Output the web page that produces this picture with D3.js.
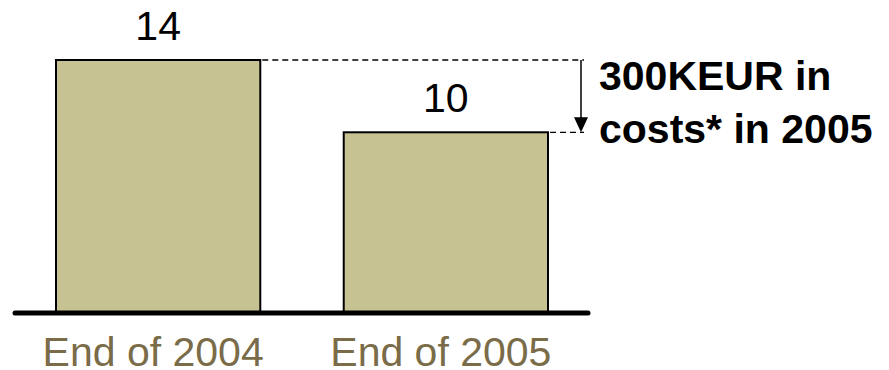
<!DOCTYPE html>
<html>
<head>
<meta charset="utf-8">
<script src="https://cdn.jsdelivr.net/npm/d3@7"></script>
<style>
  html, body { margin: 0; padding: 0; background: #fff; }
  svg { display: block; }
</style>
</head>
<body>
<svg id="chart" width="889" height="370"></svg>
<script>
// Headcount at year end
const categories = ["End of 2004", "End of 2005"];
const values = [14, 10];
const noteLines = ["300KEUR in", "costs* in 2005"];

const svg = d3.select("#chart");
const font = "'Liberation Sans', Arial, Helvetica, sans-serif";

const x = d3.scaleBand()
  .domain(categories)
  .range([56, 548])
  .paddingInner(0.29)
  .paddingOuter(0);

const y = d3.scaleLinear().domain([0, 14]).range([313, 60]);

// Bars
svg.selectAll("rect.bar")
  .data(values)
  .join("rect")
  .attr("class", "bar")
  .attr("x", (d, i) => x(categories[i]))
  .attr("y", d => y(d))
  .attr("width", x.bandwidth())
  .attr("height", d => y(0) - y(d))
  .attr("fill", "#c7c291")
  .attr("stroke", "#000")
  .attr("stroke-width", 2);

// Value labels
svg.selectAll("text.val")
  .data(values)
  .join("text")
  .attr("class", "val")
  .attr("x", (d, i) => x(categories[i]) + x.bandwidth() / 2)
  .attr("y", d => y(d) - 20)
  .attr("text-anchor", "middle")
  .attr("font-family", font)
  .attr("font-size", 41)
  .attr("fill", "#000")
  .text(d => d);

// Baseline axis
svg.append("line")
  .attr("x1", 15).attr("x2", 588)
  .attr("y1", y(0)).attr("y2", y(0))
  .attr("stroke", "#000")
  .attr("stroke-width", 5)
  .attr("stroke-linecap", "round");

// Category labels
svg.selectAll("text.cat")
  .data(categories)
  .join("text")
  .attr("class", "cat")
  .attr("x", d => x(d) + x.bandwidth() / 2 - 5)
  .attr("y", 366)
  .attr("text-anchor", "middle")
  .attr("font-family", font)
  .attr("font-size", 41)
  .attr("fill", "#7a6c48")
  .text(d => d);

// Difference marker: dashed guides and arrow
const arrowX = 581;
const x0 = x(categories[0]) + x.bandwidth();
const x1 = x(categories[1]) + x.bandwidth();
[[x0, y(values[0])], [x1, y(values[1])]].forEach(([sx, sy]) => {
  svg.append("line")
    .attr("x1", sx + 2).attr("x2", arrowX + 3)
    .attr("y1", sy).attr("y2", sy)
    .attr("stroke", "#000")
    .attr("stroke-width", 1.3)
    .attr("stroke-dasharray", "6,4");
});

svg.append("line")
  .attr("x1", arrowX).attr("x2", arrowX)
  .attr("y1", y(values[0])).attr("y2", y(values[1]) - 12)
  .attr("stroke", "#000")
  .attr("stroke-width", 1.5);

svg.append("path")
  .attr("d", `M${arrowX - 7},${y(values[1]) - 15} L${arrowX + 7},${y(values[1]) - 15} L${arrowX},${y(values[1])} Z`)
  .attr("fill", "#000");

// Annotation text
svg.selectAll("text.note")
  .data(noteLines)
  .join("text")
  .attr("class", "note")
  .attr("x", 599)
  .attr("y", (d, i) => 90 + i * 53)
  .attr("font-family", font)
  .attr("font-size", 41)
  .attr("font-weight", "bold")
  .attr("fill", "#000")
  .text(d => d);
</script>
</body>
</html>
